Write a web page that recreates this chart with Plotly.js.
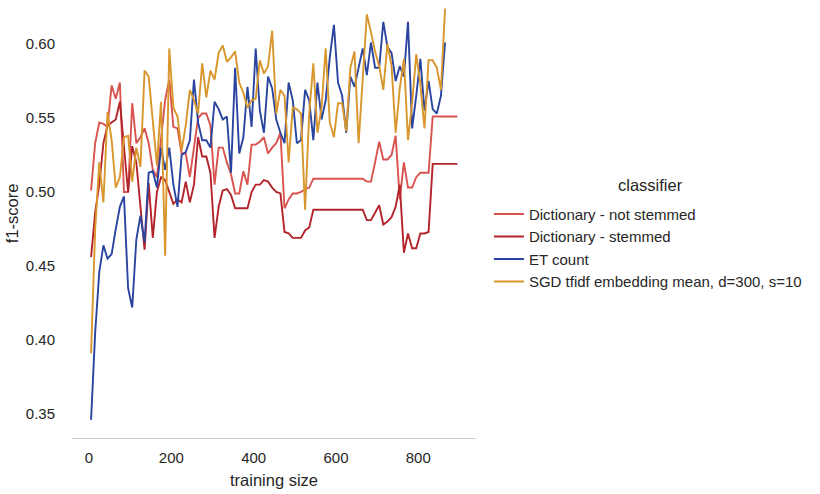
<!DOCTYPE html>
<html>
<head>
<meta charset="utf-8">
<script src="https://cdn.plot.ly/plotly-3.0.1.min.js"></script>
<style>html,body{margin:0;padding:0;background:#fff;}#chart{width:820px;height:494px;}</style>
</head>
<body>
<div id="chart"></div>
<script>
const seriesNames = ["Dictionary - not stemmed", "Dictionary - stemmed", "ET count", "SGD tfidf embedding mean, d=300, s=10"];

const xDict = [5,15,25,35,45,55,65,75,85,95,105,115,125,135,145,155,165,175,185,195,205,215,225,235,245,255,265,275,285,295,305,315,325,335,345,355,365,375,385,395,405,415,425,435,445,455,465,475,485,495,505,515,525,535,545,555,565,575,585,595,605,615,625,635,645,655,665,675,685,695,705,715,725,735,745,755,765,775,785,795,805,815,825,835,845,855,865,875,885,895];

const xModel = [5,15,25,35,45,55,65,75,85,95,105,115,125,135,145,155,165,175,185,195,205,215,225,235,245,255,265,275,285,295,305,315,325,335,345,355,365,375,385,395,405,415,425,435,445,455,465,475,485,495,505,515,525,535,545,555,565,575,585,595,605,615,625,635,645,655,665,675,685,695,705,715,725,735,745,755,765,775,785,795,805,815,825,835,845,855,865];

const dictNotStemmed = [0.501,0.533,0.547,0.546,0.544,0.572,0.563,0.574,0.500,0.500,0.560,0.533,0.537,0.543,0.533,0.515,0.510,0.535,0.562,0.576,0.544,0.543,
0.526,0.526,0.510,0.530,0.550,0.553,0.553,0.545,0.505,0.530,0.530,0.520,0.512,0.499,0.499,0.514,0.505,0.532,0.532,0.534,0.537,
0.526,0.530,0.533,0.540,0.489,0.495,0.499,0.499,0.500,0.502,0.503,0.509,0.509,0.509,0.509,0.509,0.509,0.509,0.509,0.509,0.509,0.509,0.509,0.509,0.507,0.507,0.520,0.534,0.522,0.522,0.525,0.538,0.495,0.520,0.503,0.503,0.510,0.513,0.513,0.513,0.551,
0.551,0.551,0.551,0.551,0.551,0.551];

const dictStemmed = [0.456,0.486,0.505,0.533,0.545,0.547,0.549,0.561,0.530,0.500,0.531,0.520,0.490,0.461,0.506,0.469,0.500,0.510,0.508,0.500,0.492,0.495,
0.493,0.507,0.493,0.505,0.537,0.524,0.524,0.513,0.469,0.490,0.501,0.502,0.498,0.489,0.489,0.489,0.489,0.500,0.505,0.505,0.508,
0.507,0.503,0.500,0.499,0.473,0.472,0.469,0.469,0.469,0.474,0.476,0.488,
0.488,0.488,0.488,0.488,0.488,0.488,0.488,0.488,0.488,0.488,0.488,0.488,
0.481,0.481,0.486,0.491,0.478,0.480,0.483,0.490,0.505,0.459,0.472,0.462,0.462,0.472,0.472,0.473,
0.519,0.519,0.519,0.519,0.519,0.519,0.519];

const etCount = [0.346,0.405,0.446,0.464,0.455,0.458,0.475,0.490,0.497,0.435,0.422,0.468,0.484,0.466,0.513,0.514,0.503,0.530,0.515,0.530,0.505,0.490,
0.525,0.527,0.535,0.576,0.547,0.535,0.535,0.530,0.561,0.556,0.549,0.551,0.513,0.584,0.526,0.537,0.571,0.544,0.597,0.555,0.540,0.578,
0.570,0.549,0.540,0.533,0.574,0.562,0.533,0.535,0.569,0.562,0.535,0.574,0.549,0.562,0.591,0.613,0.574,0.565,0.540,0.578,0.571,0.583,
0.597,0.579,0.601,0.584,0.584,0.615,0.598,0.594,0.575,0.585,0.578,0.615,0.543,0.565,0.590,0.555,0.575,0.556,0.553,0.565,0.601];

const sgdTfidf = [0.391,0.475,0.520,0.493,0.554,0.535,0.503,0.510,0.537,0.538,0.507,0.530,0.517,0.582,0.578,0.545,0.518,0.561,0.457,0.597,0.557,0.551,
0.528,0.545,0.569,0.562,0.553,0.587,0.564,0.582,0.576,0.594,0.599,0.588,0.591,0.595,0.574,0.567,0.557,0.562,0.563,0.589,0.580,0.585,
0.609,0.553,0.569,0.565,0.520,0.557,0.556,0.553,0.488,0.553,0.587,0.540,0.557,0.597,0.547,0.537,0.560,0.560,0.541,0.584,0.595,0.533,
0.575,0.620,0.608,0.595,0.585,0.569,0.600,0.585,0.540,0.570,0.590,0.535,0.560,0.593,0.573,0.543,0.589,0.589,0.584,0.569,0.624];

const xTicks = [0, 200, 400, 600, 800];
const yTicks = [0.35, 0.40, 0.45, 0.50, 0.55, 0.60];
const colors = ["#d9534f", "#b3242b", "#2a45a0", "#d8962c"];

const xs = [xDict, xDict, xModel, xModel];
const ys = [dictNotStemmed, dictStemmed, etCount, sgdTfidf];

const traces = seriesNames.map((name, i) => ({
  type: "scatter", mode: "lines", name: name,
  x: xs[i], y: ys[i],
  legendgroup: "g" + i,
  line: {color: colors[i], width: 1.9}
}));

const fam = "Liberation Sans, Arial, sans-serif";
const tickFont = {family: fam, size: 15, color: "#262626"};
const titleFont = {family: fam, size: 16.5, color: "#262626"};
const legendFont = {family: fam, size: 15, color: "#262626"};

const layout = {
  width: 820, height: 494,
  margin: {l: 72, r: 344, t: 0, b: 56},
  paper_bgcolor: "#ffffff", plot_bgcolor: "#ffffff",
  font: tickFont,
  showlegend: true,
  xaxis: {
    range: [-41.3, 940.2],
    tickvals: xTicks, ticktext: xTicks.map(String),
    tickfont: tickFont,
    showgrid: false, zeroline: false,
    showline: true, linecolor: "#cccccc", linewidth: 1.3,
    ticks: "", ticklabelstandoff: 6,
    title: {text: "training size", font: titleFont, standoff: 9}
  },
  yaxis: {
    range: [0.33378, 0.62973],
    tickvals: yTicks, ticktext: yTicks.map(v => v.toFixed(2)),
    tickfont: tickFont,
    showgrid: false, zeroline: false, showline: false,
    ticks: "", ticklabelstandoff: 16
  },
  annotations: [{
    text: "f1-score", textangle: -90, font: titleFont,
    xref: "paper", yref: "paper", x: -0.148, y: 0.5137,
    xanchor: "center", yanchor: "middle", showarrow: false
  }, {
    text: "classifier", font: titleFont,
    xref: "paper", yref: "paper", x: 1.4307, y: 0.5776,
    xanchor: "center", yanchor: "middle", showarrow: false
  }],
  legend: {
    x: 1.032, xanchor: "left", y: 0.5485, yanchor: "top",
    bgcolor: "rgba(0,0,0,0)",
    font: legendFont,
    tracegroupgap: 0
  }
};

Plotly.newPlot("chart", traces, layout, {displayModeBar: false, staticPlot: true});
</script>
</body>
</html>
